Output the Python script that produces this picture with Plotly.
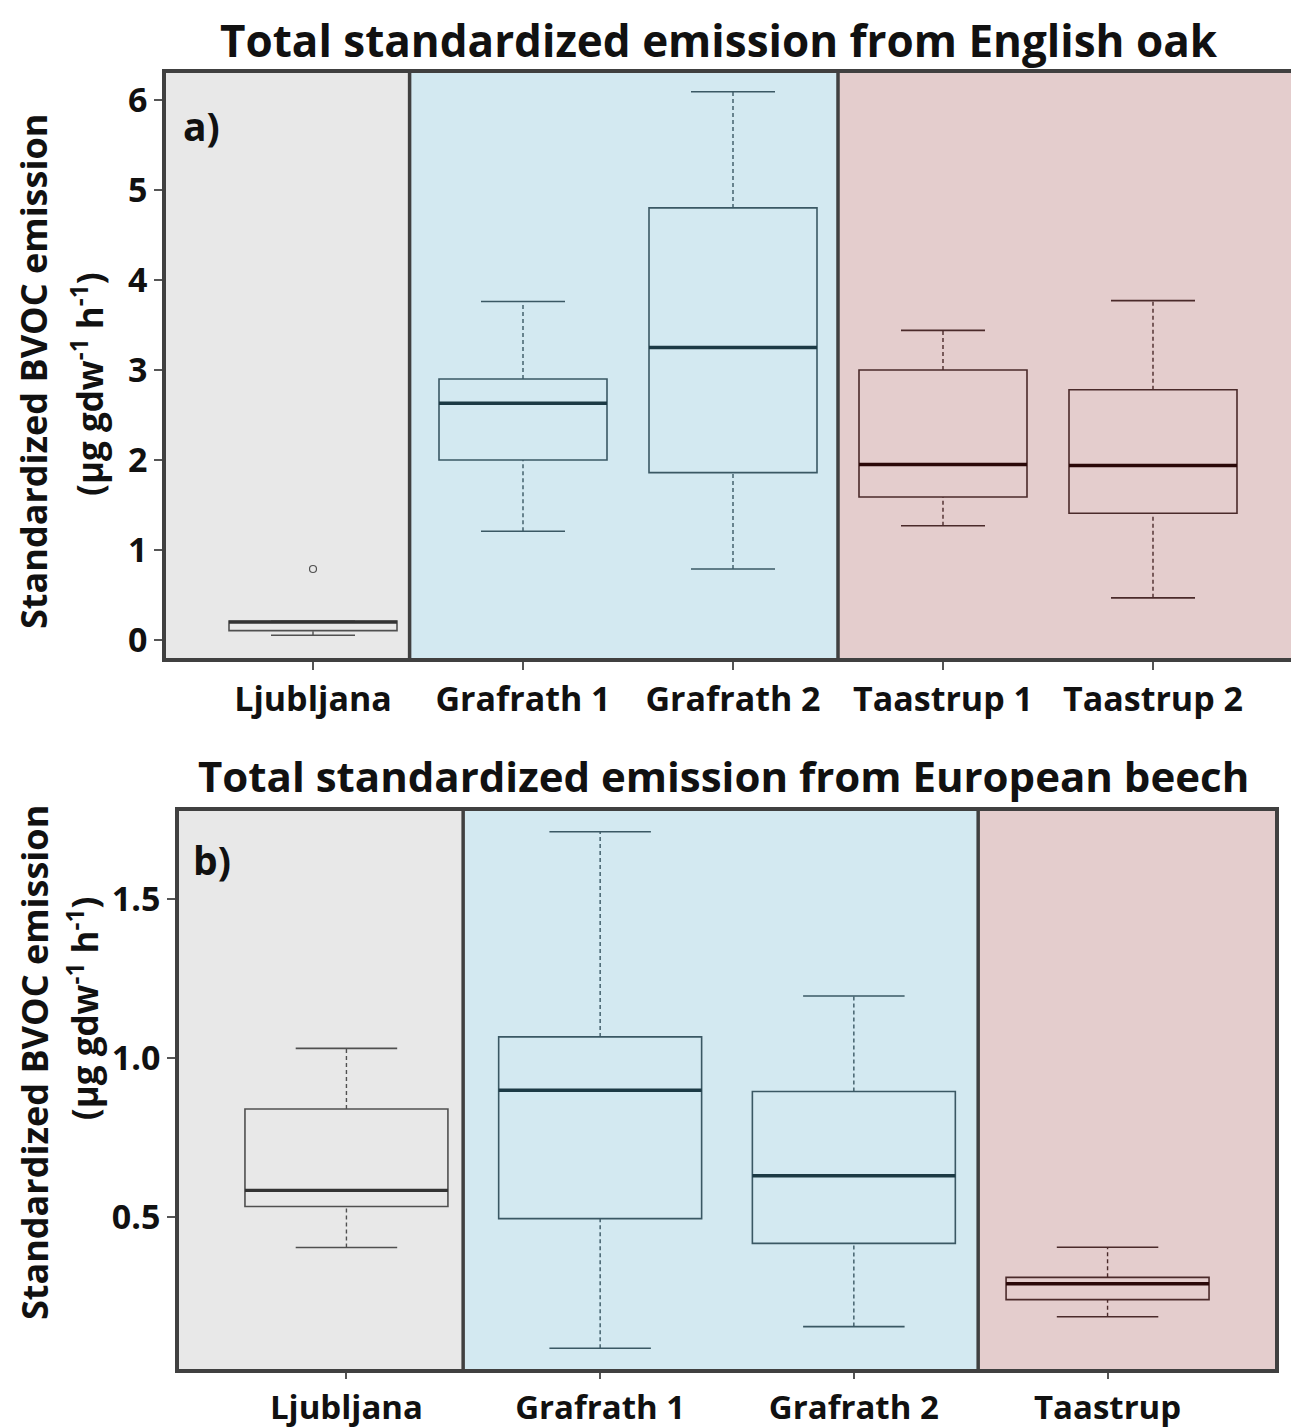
import plotly.graph_objects as go

# English oak (panel a)
oak_sites = ["Ljubljana", "Grafrath 1", "Grafrath 2", "Taastrup 1", "Taastrup 2"]
oak_lower = [0.055, 1.21, 0.79, 1.27, 0.47]
oak_q1 = [0.106, 2.00, 1.86, 1.59, 1.41]
oak_median = [0.20, 2.63, 3.25, 1.95, 1.94]
oak_q3 = [0.212, 2.90, 4.80, 3.00, 2.78]
oak_upper = [0.212, 3.76, 6.09, 3.44, 3.77]
oak_outliers = [[0.79], [], [], [], []]
oak_region = ["lj", "gr", "gr", "ta", "ta"]

# European beech (panel b)
beech_sites = ["Ljubljana", "Grafrath 1", "Grafrath 2", "Taastrup"]
beech_lower = [0.403, 0.086, 0.154, 0.185]
beech_q1 = [0.532, 0.494, 0.416, 0.239]
beech_median = [0.583, 0.898, 0.629, 0.289]
beech_q3 = [0.839, 1.066, 0.894, 0.309]
beech_upper = [1.030, 1.712, 1.195, 0.404]
beech_outliers = [[], [], [], []]
beech_region = ["lj", "gr", "gr", "ta"]

bg = {"lj": "#E8E8E8", "gr": "#D3E9F1", "ta": "#E4CDCD"}
line_col = {"lj": "#505050", "gr": "#3A5864", "ta": "#4A2A2A"}
med_col = {"lj": "#333333", "gr": "#1C3A45", "ta": "#2A0808"}

frame = "#404040"
font_main = "Open Sans"
W, H = 1299, 1427
# small shift of the page in the screenshot
OFF_X, OFF_Y = 5, 3


def px(x):
    return (x - OFF_X) / W


def py(y):
    return 1 - (y - OFF_Y) / H


fig = go.Figure()


def add_panel(fig, xa, ya, lower, q1, med, q3, upper, outl, region):
    xr = "x" if xa == 1 else "x%d" % xa
    yr = "y" if ya == 1 else "y%d" % ya
    for i in range(len(q1)):
        p = i + 1
        r = region[i]
        fig.add_trace(go.Box(
            x=[p], q1=[q1[i]], median=[med[i]], q3=[q3[i]],
            lowerfence=[q1[i]], upperfence=[q3[i]],
            width=0.8, whiskerwidth=0, boxpoints=False,
            line=dict(color=line_col[r], width=1.6),
            fillcolor="rgba(0,0,0,0)", showlegend=False,
            xaxis=xr, yaxis=yr, hoverinfo="skip"))
        # dashed whiskers
        fig.add_trace(go.Scatter(
            x=[p, p, None, p, p], y=[lower[i], q1[i], None, q3[i], upper[i]],
            mode="lines", line=dict(color=line_col[r], width=1.4, dash="4px,3px"),
            showlegend=False, xaxis=xr, yaxis=yr, hoverinfo="skip"))
        # caps
        fig.add_trace(go.Scatter(
            x=[p - 0.2, p + 0.2, None, p - 0.2, p + 0.2],
            y=[lower[i], lower[i], None, upper[i], upper[i]],
            mode="lines", line=dict(color=line_col[r], width=1.6),
            showlegend=False, xaxis=xr, yaxis=yr, hoverinfo="skip"))
        # thick median
        fig.add_trace(go.Scatter(
            x=[p - 0.4, p + 0.4], y=[med[i], med[i]],
            mode="lines", line=dict(color=med_col[r], width=3.4),
            showlegend=False, xaxis=xr, yaxis=yr, hoverinfo="skip"))
        if outl[i]:
            fig.add_trace(go.Scatter(
                x=[p] * len(outl[i]), y=outl[i], mode="markers",
                marker=dict(symbol="circle-open", size=7, color=line_col[r], line=dict(width=1.2)),
                showlegend=False, xaxis=xr, yaxis=yr, hoverinfo="skip"))


add_panel(fig, 1, 1, oak_lower, oak_q1, oak_median, oak_q3, oak_upper, oak_outliers, oak_region)
add_panel(fig, 2, 2, beech_lower, beech_q1, beech_median, beech_q3, beech_upper, beech_outliers, beech_region)

# background bands + dividers
shapes = []
for xr, yr, bands, divs in [
    ("x", "y domain", [(0, 1.46, "lj"), (1.46, 3.5, "gr"), (3.5, 6, "ta")], [1.46, 3.5]),
    ("x2", "y2 domain", [(0, 1.46, "lj"), (1.46, 3.49, "gr"), (3.49, 5, "ta")], [1.46, 3.49]),
]:
    for x0, x1, r in bands:
        shapes.append(dict(type="rect", xref=xr, yref=yr, x0=x0, x1=x1, y0=0, y1=1,
                           fillcolor=bg[r], line=dict(width=0), layer="below"))
    for d in divs:
        shapes.append(dict(type="line", xref=xr, yref=yr, x0=d, x1=d, y0=0, y1=1,
                           line=dict(color=frame, width=3.5), layer="above"))

xtick_font = dict(family=font_main, size=34, color="#111111", weight="bold")
ytick_font = dict(family=font_main, size=34, color="#111111", weight="bold")
axis_common = dict(showline=True, mirror=True, linewidth=3.5, linecolor=frame,
                   showgrid=False, zeroline=False, ticks="outside", ticklen=8,
                   tickwidth=1.5, tickcolor="#555555")

fig.update_layout(
    width=W, height=H,
    margin=dict(l=0, r=0, t=0, b=0),
    paper_bgcolor="white", plot_bgcolor="white",
    boxmode="overlay", showlegend=False,
    shapes=shapes,
    font=dict(family=font_main),
    xaxis=dict(axis_common, domain=[px(163), px(1297)], range=[0.3, 5.7], tickfont=xtick_font,
               tickvals=list(range(1, len(oak_sites) + 1)), ticktext=oak_sites, anchor="y"),
    yaxis=dict(axis_common, domain=[py(655), py(68)], range=[-0.2, 6.3], tickfont=ytick_font,
               tickvals=[0, 1, 2, 3, 4, 5, 6], anchor="x"),
    xaxis2=dict(axis_common, domain=[px(176), px(1272)], range=[0.34, 4.66],
                tickfont=dict(xtick_font, size=33), ticklen=6,
                tickvals=list(range(1, len(beech_sites) + 1)), ticktext=beech_sites, anchor="y2"),
    yaxis2=dict(axis_common, domain=[py(1368), py(808)], range=[0.02, 1.778], tickfont=ytick_font,
                tickvals=[0.5, 1.0, 1.5], ticktext=["0.5", "1.0", "1.5"], anchor="x2"),
)

lab_font = dict(family=font_main, size=36, color="#111111")
lab2_font = dict(family=font_main, size=35, color="#111111")
panel_font = dict(family=font_main, size=39, color="#111111")
anns = [
    dict(text="<b>Total standardized emission from English oak</b>", x=px(716), y=py(35),
         font=dict(family=font_main, size=44, color="#111111")),
    dict(text="<b>Total standardized emission from European beech</b>", x=px(720), y=py(773),
         font=dict(family=font_main, size=42, color="#111111")),
    dict(text="<b>a)</b>", x=px(178), y=py(121), xanchor="left", font=panel_font),
    dict(text="<b>b)</b>", x=px(188), y=py(857), xanchor="left", font=panel_font),
    dict(text="<b>Standardized BVOC emission</b>", x=px(31), y=py(368), textangle=-90, font=lab_font),
    dict(text="<b>(µg gdw<sup>-1</sup> h<sup>-1</sup>)</b>", x=px(85), y=py(380), textangle=-90, font=lab2_font),
    dict(text="<b>Standardized BVOC emission</b>", x=px(31), y=py(1061), textangle=-90, font=lab_font),
    dict(text="<b>(µg gdw<sup>-1</sup> h<sup>-1</sup>)</b>", x=px(80), y=py(1006), textangle=-90, font=lab2_font),
]
for a in anns:
    fig.add_annotation(xref="paper", yref="paper", showarrow=False,
                       xanchor=a.pop("xanchor", "center"), yanchor="middle", **a)

fig.write_html("out.html")
